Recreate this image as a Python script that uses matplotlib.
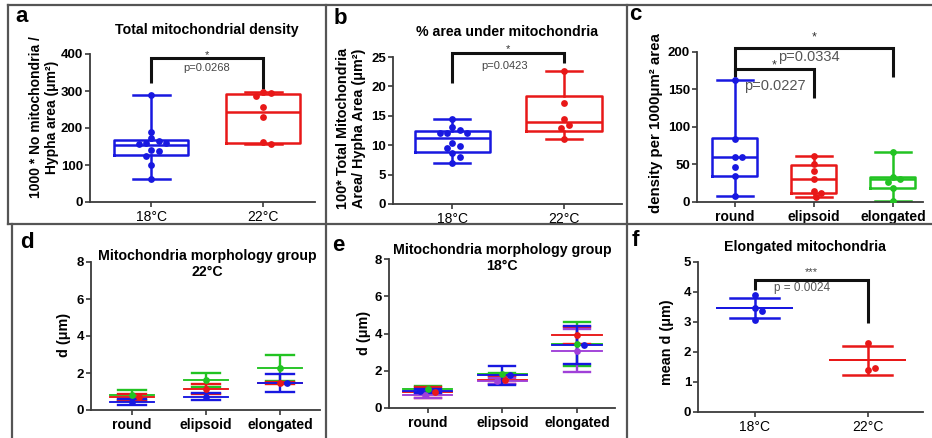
import numpy as np
import matplotlib
matplotlib.use('Agg')
import matplotlib.pyplot as plt
from matplotlib.lines import Line2D

plt.rcParams['font.family'] = ['Liberation Sans', 'DejaVu Sans']

W, H = 932, 438
BLUE = '#1818e0'
RED = '#e81818'
GREEN = '#22c322'
PURPLE = '#a040d8'
SPINE = '#3a3a3a'

# ---- data ----
temps = ['18°C', '22°C']
shapes = ['round', 'elipsoid', 'elongated']

# a: total mitochondrial density
a_18 = [288, 190, 172, 164, 159, 157, 159, 141, 137, 125, 99, 63]
a_22 = [296, 294, 286, 257, 231, 161, 157]
a_q1 = [127, 159]
a_med = [155, 243]
a_q3 = [168, 291]

# b: % area under mitochondria
b_18 = [14.4, 13.1, 12.6, 12.1, 12.0, 12.0, 10.3, 9.9, 9.45, 8.6, 8.0, 6.9]
b_22 = [22.6, 17.1, 14.4, 13.4, 12.95, 11.1]
b_q1 = [8.9, 12.4]
b_med = [11.3, 14.0]
b_q3 = [12.45, 18.4]

# c: density per morphology
c_round = [163, 84, 60, 60, 46, 34, 8]
c_elip = [61, 50, 41, 31, 14.7, 12.4, 6.7]
c_elong = [66, 33, 30, 27, 19, 1.5]
c_q1 = [34.7, 12.4, 18.7]
c_med = [60, 31, 30.2]
c_q3 = [85.3, 49.8, 33.3]

# d: 22°C morphology groups (mean, sd per sample)
d_green_mean = [0.80, 1.60, 2.27]
d_green_sd = [0.28, 0.38, 0.70]
d_red_mean = [0.68, 1.15, 1.45]
d_red_sd = [0.20, 0.28, 0.05]
d_blue_mean = [0.43, 0.72, 1.45]
d_blue_sd = [0.15, 0.18, 0.50]

# e: 18°C morphology groups
e_green_mean = [1.00, 1.80, 3.44]
e_green_sd = [0.20, 0.10, 1.16]
e_red_mean = [0.85, 1.50, 3.90]
e_red_sd = [0.30, 0.20, 0.45]
e_blue_mean = [0.90, 1.75, 3.38]
e_blue_sd = [0.10, 0.52, 1.02]
e_purple_mean = [0.70, 1.45, 3.08]
e_purple_sd = [0.15, 0.15, 1.15]

# f: elongated mitochondria mean d
f_18 = [3.90, 3.48, 3.37, 3.08]
f_22 = [2.29, 1.41, 1.46]

TITLE = 10.2
YLAB = 10.4


def rect(l, r, t, b):
    return [l / W, 1 - b / H, (r - l) / W, (b - t) / H]


def ftext(x, y, s, **kw):
    fig.text(x / W, 1 - y / H, s, ha='center', va='center', **kw)


def style(ax, xlim, ylim, yticks, xlabels, xbold=False):
    ax.set_xlim(*xlim)
    ax.set_ylim(*ylim)
    for s in ['top', 'right']:
        ax.spines[s].set_visible(False)
    for s in ['left', 'bottom']:
        ax.spines[s].set_color(SPINE)
        ax.spines[s].set_linewidth(1.3)
    ax.set_yticks(yticks)
    ax.set_yticklabels([str(t) for t in yticks], fontweight='bold')
    ax.set_xticks(range(len(xlabels)))
    ax.set_xticklabels(xlabels, fontweight='bold' if xbold else 'normal')
    ax.tick_params(direction='out', length=3.5, width=1.2, color=SPINE,
                   labelsize=10, pad=2)
    ax.tick_params(axis='y', labelsize=9.5, pad=1.5)
    ax.patch.set_alpha(0)


def swarm_x(ax, xc, vals, d=6.5):
    disp = ax.transData.transform(np.column_stack([np.full(len(vals), xc), vals]))
    offs = [0] + [sg * i * 2.5 for i in range(1, 30) for sg in (1, -1)]
    placed = []
    for px, py in disp:
        for o in offs:
            cx = px + o
            if all(np.hypot(cx - qx, py - qy) >= d for qx, qy in placed):
                break
        placed.append((cx, py))
    return ax.transData.inverted().transform(placed)[:, 0]


def boxes(ax, data, q1, med, q3, colors, width, capw):
    stats = [dict(q1=q1[i], med=med[i], q3=q3[i], whislo=min(v), whishi=max(v),
                  fliers=[]) for i, v in enumerate(data)]
    bp = ax.bxp(stats, positions=range(len(data)), widths=width, capwidths=capw,
                showfliers=False, manage_ticks=False)
    for i, c in enumerate(colors):
        for art in [bp['boxes'][i], bp['medians'][i]] + bp['whiskers'][2*i:2*i+2] + bp['caps'][2*i:2*i+2]:
            art.set_color(c)
            art.set_linewidth(1.8)
        xs = swarm_x(ax, i, data[i])
        ax.scatter(xs, data[i], s=24, color=c, zorder=4, linewidths=0)


def bracket(ax, x1, x2, y, y1, y2):
    ax.plot([x1, x1, x2, x2], [y1, y, y, y2], color='#111', lw=2.2,
            clip_on=False, solid_joinstyle='miter', solid_capstyle='butt')


def mean_sd(ax, x, m, s, color, mw, cw, lw=1.7):
    ax.plot([x, x], [m - s, m + s], color=color, lw=lw, solid_capstyle='butt')
    ax.plot([x - cw/2, x + cw/2], [m + s, m + s], color=color, lw=lw)
    ax.plot([x - cw/2, x + cw/2], [m - s, m - s], color=color, lw=lw)
    ax.plot([x - mw/2, x + mw/2], [m, m], color=color, lw=lw * 0.8)


def group_panel(ax, series, mw, cw):
    for i in range(len(shapes)):
        means = [sr[1][i] for sr in series]
        for col, mean, sd in series:
            mean_sd(ax, i, mean[i], sd[i], col, mw, cw)
        xs = swarm_x(ax, i, means, d=6.0)
        for (col, _, _), xx, mv in zip(series, xs, means):
            ax.scatter([xx], [mv], s=24, color=col, zorder=4, linewidths=0)


fig = plt.figure(figsize=(W / 100, H / 100), dpi=100)

# panel frame lines
for x0, y0, x1, y1 in [(8, 5, 932, 5), (8, 5, 8, 224), (12, 224, 12, 438),
                       (8, 224, 932, 224), (326, 5, 326, 438), (627, 5, 627, 438)]:
    fig.add_artist(Line2D([x0 / W, x1 / W], [1 - y0 / H, 1 - y1 / H],
                          color='#555555', lw=1.6))

# ---- a ----
ax = fig.add_axes(rect(90, 315, 54, 202))
style(ax, (-0.545, 1.464), (0, 400), [0, 100, 200, 300, 400], temps)
boxes(ax, [a_18, a_22], a_q1, a_med, a_q3, [BLUE, RED], 0.66, 0.33)
bracket(ax, 0, 1, 388, 321, 305)
ax.text(0.5, 398, '*', ha='center', va='center', fontsize=8, color='#333', clip_on=False)
ax.text(0.5, 361, 'p=0.0268', ha='center', va='center', fontsize=8, color='#444')
ftext(207, 30, 'Total mitochondrial density', fontsize=TITLE, fontweight='bold')
ftext(44, 117, '1000 * No mitochondria /\nHypha area (μm²)', rotation=90,
      fontsize=10, fontweight='bold', linespacing=1.15)
ftext(22, 17, 'a', fontsize=16, fontweight='bold')

# ---- b ----
ax = fig.add_axes(rect(393, 622, 57, 204))
style(ax, (-0.527, 1.518), (0, 25), [0, 5, 10, 15, 20, 25], temps)
boxes(ax, [b_18, b_22], b_q1, b_med, b_q3, [BLUE, RED], 0.67, 0.33)
bracket(ax, 0, 1, 25.6, 20.5, 23.9)
ax.text(0.5, 26.4, '*', ha='center', va='center', fontsize=8, color='#333', clip_on=False)
ax.text(0.47, 23.5, 'p=0.0423', ha='center', va='center', fontsize=8, color='#444')
ftext(507, 32, '% area under mitochondria', fontsize=TITLE, fontweight='bold')
ftext(351, 128, '100* Total Mitochondria\nArea/ Hypha Area (μm²)', rotation=90,
      fontsize=YLAB, fontweight='bold', linespacing=1.1)
ftext(340, 18, 'b', fontsize=16, fontweight='bold')

# ---- c ----
ax = fig.add_axes(rect(697, 923, 52, 202))
style(ax, (-0.48, 2.38), (0, 200), [0, 50, 100, 150, 200], shapes, xbold=True)
boxes(ax, [c_round, c_elip, c_elong], c_q1, c_med, c_q3, [BLUE, RED, GREEN], 0.57, 0.46)
bracket(ax, 0, 2, 205, 167, 167)
bracket(ax, 0, 1, 177, 169, 138)
ax.text(1.0, 219, '*', ha='center', va='center', fontsize=9, color='#333', clip_on=False)
ax.text(0.93, 193, 'p=0.0334', ha='center', va='center', fontsize=10.5, color='#555')
ax.text(0.5, 182, '*', ha='center', va='center', fontsize=9, color='#333')
ax.text(0.5, 155, 'p=0.0227', ha='center', va='center', fontsize=10.5, color='#555')
ftext(656, 123, 'density per 1000μm² area', rotation=90, fontsize=10.8, fontweight='bold')
ftext(635, 15, 'c', fontsize=16, fontweight='bold')

# ---- d ----
ax = fig.add_axes(rect(91, 320, 262, 410))
style(ax, (-0.55, 2.54), (0, 8), [0, 2, 4, 6, 8], shapes, xbold=True)
group_panel(ax, [(GREEN, d_green_mean, d_green_sd),
                 (RED, d_red_mean, d_red_sd),
                 (BLUE, d_blue_mean, d_blue_sd)], 0.6, 0.38)
ftext(207, 264, 'Mitochondria morphology group\n22°C', fontsize=TITLE,
      fontweight='bold', linespacing=1.1)
ftext(64, 335, 'd (μm)', rotation=90, fontsize=YLAB, fontweight='bold')
ftext(27, 243, 'd', fontsize=16, fontweight='bold')

# ---- e ----
ax = fig.add_axes(rect(389, 615, 259, 408))
style(ax, (-0.52, 2.51), (0, 8), [0, 2, 4, 6, 8], shapes, xbold=True)
group_panel(ax, [(GREEN, e_green_mean, e_green_sd),
                 (RED, e_red_mean, e_red_sd),
                 (PURPLE, e_purple_mean, e_purple_sd),
                 (BLUE, e_blue_mean, e_blue_sd)], 0.66, 0.35)
ftext(502, 258, 'Mitochondria morphology group\n18°C', fontsize=TITLE,
      fontweight='bold', linespacing=1.1)
ftext(364, 333, 'd (μm)', rotation=90, fontsize=YLAB, fontweight='bold')
ftext(338, 245, 'e', fontsize=16, fontweight='bold')

# ---- f ----
ax = fig.add_axes(rect(698, 923, 262, 412))
style(ax, (-0.5, 1.49), (0, 5), [0, 1, 2, 3, 4, 5], temps)
for i, (vals, col) in enumerate([(f_18, BLUE), (f_22, RED)]):
    mean_sd(ax, i, np.mean(vals), np.std(vals, ddof=1), col, 0.66, 0.43, lw=1.8)
    xs = swarm_x(ax, i, vals)
    ax.scatter(xs, vals, s=24, color=col, zorder=4, linewidths=0)
bracket(ax, 0, 1, 4.39, 4.06, 2.96)
ax.text(0.5, 4.68, '***', ha='center', va='center', fontsize=8, color='#444', clip_on=False)
ax.text(0.42, 4.13, 'p = 0.0024', ha='center', va='center', fontsize=8.5, color='#555')
ftext(805, 247, 'Elongated mitochondria', fontsize=TITLE, fontweight='bold')
ftext(667, 342, 'mean d (μm)', rotation=90, fontsize=YLAB, fontweight='bold')
ftext(635, 240, 'f', fontsize=16, fontweight='bold')

fig.savefig('out.png', dpi=100)
